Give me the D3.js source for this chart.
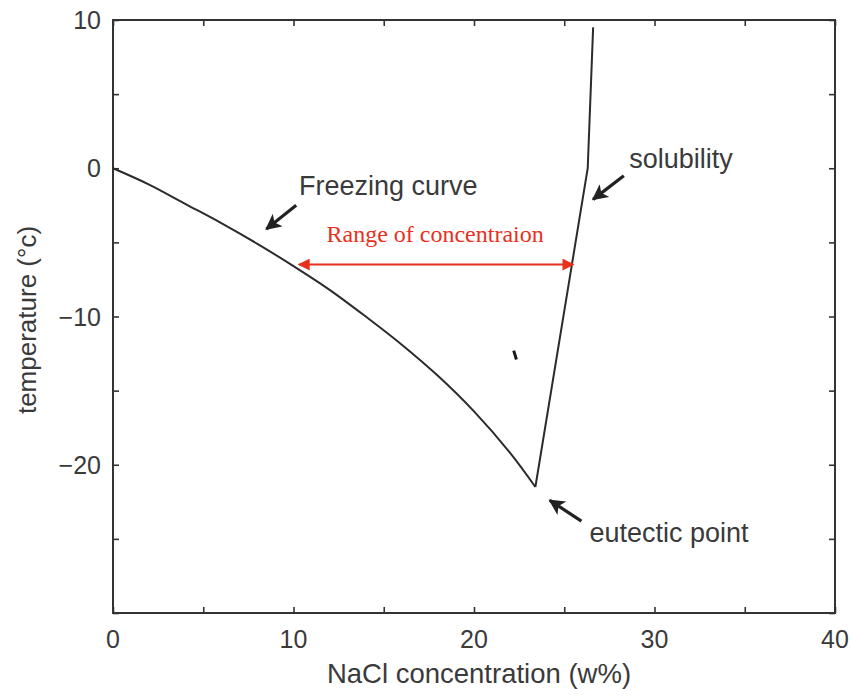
<!DOCTYPE html>
<html>
<head>
<meta charset="utf-8">
<script src="https://cdn.jsdelivr.net/npm/d3@7"></script>
<style>
  body { margin: 0; background: #fff; }
  text { font-family: "Liberation Sans", Arial, Helvetica, sans-serif; fill: #3a3a3a; }
</style>
</head>
<body>
<div id="chart"></div>
<script>

// data (NaCl w%, temperature in C)
var freezingX = [0, 2, 4, 6, 8, 10, 12, 14, 16, 18, 20, 22, 23.4];
var freezingY = [0, -1.1, -2.4, -3.7, -5.1, -6.6, -8.2, -10.0, -11.9, -14.0, -16.4, -19.2, -21.5];
var solubilityX = [23.4, 26.3, 26.6];
var solubilityY = [-21.5, 0, 9.5];
var strayX = [22.2, 22.35];
var strayY = [-12.3, -12.9];
var rangeX = [10.3, 25.5];
var rangeY = -6.5;

var xTicks = [0, 5, 10, 15, 20, 25, 30, 35, 40];
var yTicks = [-30, -25, -20, -15, -10, -5, 0, 5, 10];
var xLabels = [0, 10, 20, 30, 40];
var yLabels = [-20, -10, 0, 10];

// annotations: label and arrow (tail -> tip) in data units
var notes = [
  { text: "Freezing curve", tx: 10.3, ty: -1.8, x1: 10.15, y1: -2.5, x2: 8.5, y2: -4.1 },
  { text: "solubility", tx: 28.6, ty: 0.0, x1: 28.3, y1: -0.5, x2: 26.6, y2: -2.1 },
  { text: "eutectic point", tx: 26.4, ty: -25.2, x1: 25.95, y1: -23.8, x2: 24.2, y2: -22.4 }
];

var w = 851;
var h = 698;
var padLeft = 113, padRight = 835, padTop = 20, padBottom = 613;

var svg = d3.select("#chart")
            .append("svg")
              .attr("width", w)
              .attr("height", h);

var xScale = d3.scaleLinear().domain([0, 40]).range([padLeft, padRight]);
var yScale = d3.scaleLinear().domain([-30, 10]).range([padBottom, padTop]);

var defs = svg.append("defs");
defs.append("marker")
    .attr("id", "blackhead")
    .attr("viewBox", "0 0 10 10")
    .attr("refX", 9).attr("refY", 5)
    .attr("markerWidth", 5).attr("markerHeight", 5)
    .attr("markerUnits", "strokeWidth")
    .attr("orient", "auto")
  .append("path")
    .attr("d", "M0,0 L10,5 L0,10 L2.5,5 Z")
    .attr("fill", "#222");

defs.append("marker")
    .attr("id", "redhead")
    .attr("viewBox", "0 0 10 10")
    .attr("refX", 9).attr("refY", 5)
    .attr("markerWidth", 7).attr("markerHeight", 6)
    .attr("markerUnits", "strokeWidth")
    .attr("orient", "auto-start-reverse")
  .append("path")
    .attr("d", "M0,0 L10,5 L0,10 Z")
    .attr("fill", "#e8301c");

// ticks on all four sides, pointing in
var tickLen = 6;
svg.append("g")
   .attr("transform", "translate(0," + padBottom + ")")
   .call(d3.axisBottom(xScale).tickValues(xTicks).tickSizeInner(-tickLen).tickSizeOuter(0).tickFormat(""));
svg.append("g")
   .attr("transform", "translate(0," + padTop + ")")
   .call(d3.axisTop(xScale).tickValues(xTicks).tickSizeInner(-tickLen).tickSizeOuter(0).tickFormat(""));
svg.append("g")
   .attr("transform", "translate(" + padLeft + ",0)")
   .call(d3.axisLeft(yScale).tickValues(yTicks).tickSizeInner(-tickLen).tickSizeOuter(0).tickFormat(""));
svg.append("g")
   .attr("transform", "translate(" + padRight + ",0)")
   .call(d3.axisRight(yScale).tickValues(yTicks).tickSizeInner(-tickLen).tickSizeOuter(0).tickFormat(""));

svg.selectAll(".domain").remove();
svg.selectAll(".tick line").attr("stroke", "#333").attr("stroke-width", 1.6);

// frame
svg.append("rect")
   .attr("x", padLeft).attr("y", padTop)
   .attr("width", padRight - padLeft).attr("height", padBottom - padTop)
   .attr("fill", "none")
   .attr("stroke", "#333")
   .attr("stroke-width", 2);

// tick labels
svg.selectAll(".xlab")
   .data(xLabels)
   .enter()
   .append("text")
   .attr("x", function(d) { return xScale(d); })
   .attr("y", padBottom + 35)
   .attr("text-anchor", "middle")
   .style("font-size", "25px")
   .text(function(d) { return d; });

svg.selectAll(".ylab")
   .data(yLabels)
   .enter()
   .append("text")
   .attr("x", padLeft - 12)
   .attr("y", function(d) { return yScale(d) + 9; })
   .attr("text-anchor", "end")
   .style("font-size", "25px")
   .text(function(d) { return d < 0 ? "\u2212" + Math.abs(d) : d; });

// axis titles
svg.append("text")
   .attr("x", 479)
   .attr("y", 683)
   .attr("text-anchor", "middle")
   .style("font-size", "27.5px")
   .text("NaCl concentration (w%)");

svg.append("text")
   .attr("transform", "translate(36," + 320 + ") rotate(-90)")
   .attr("text-anchor", "middle")
   .style("font-size", "26px")
   .text("temperature (\u00b0c)");

// curves
var line = d3.line()
             .x(function(d) { return xScale(d[0]); })
             .y(function(d) { return yScale(d[1]); });

var freezing = d3.zip(freezingX, freezingY);
var solubility = d3.zip(solubilityX, solubilityY);

svg.append("path")
   .attr("d", line.curve(d3.curveCatmullRom.alpha(0.5))(freezing))
   .attr("fill", "none")
   .attr("stroke", "#2b2b2b")
   .attr("stroke-width", 2);

svg.append("path")
   .attr("d", line.curve(d3.curveLinear)(solubility))
   .attr("fill", "none")
   .attr("stroke", "#2b2b2b")
   .attr("stroke-width", 2);

svg.append("path")
   .attr("d", line(d3.zip(strayX, strayY)))
   .attr("fill", "none")
   .attr("stroke", "#1a1a1a")
   .attr("stroke-width", 3);

// range arrow
svg.append("line")
   .attr("x1", xScale(rangeX[0])).attr("y1", yScale(rangeY))
   .attr("x2", xScale(rangeX[1])).attr("y2", yScale(rangeY))
   .attr("stroke", "#e8301c")
   .attr("stroke-width", 2)
   .attr("marker-start", "url(#redhead)")
   .attr("marker-end", "url(#redhead)");

svg.append("text")
   .attr("x", xScale((rangeX[0] + rangeX[1]) / 2) - 1)
   .attr("y", 242)
   .attr("text-anchor", "middle")
   .style("font-family", "'Liberation Serif', 'Times New Roman', serif")
   .style("font-size", "24px")
   .style("fill", "#e8301c")
   .text("Range of concentraion");

// annotations
svg.selectAll(".note-arrow")
   .data(notes)
   .enter()
   .append("line")
   .attr("x1", function(d) { return xScale(d.x1); })
   .attr("y1", function(d) { return yScale(d.y1); })
   .attr("x2", function(d) { return xScale(d.x2); })
   .attr("y2", function(d) { return yScale(d.y2); })
   .attr("stroke", "#222")
   .attr("stroke-width", 3.2)
   .attr("marker-end", "url(#blackhead)");

svg.selectAll(".note-text")
   .data(notes)
   .enter()
   .append("text")
   .attr("x", function(d) { return xScale(d.tx); })
   .attr("y", function(d) { return yScale(d.ty); })
   .style("font-size", "27px")
   .text(function(d) { return d.text; });

</script>
</body>
</html>
